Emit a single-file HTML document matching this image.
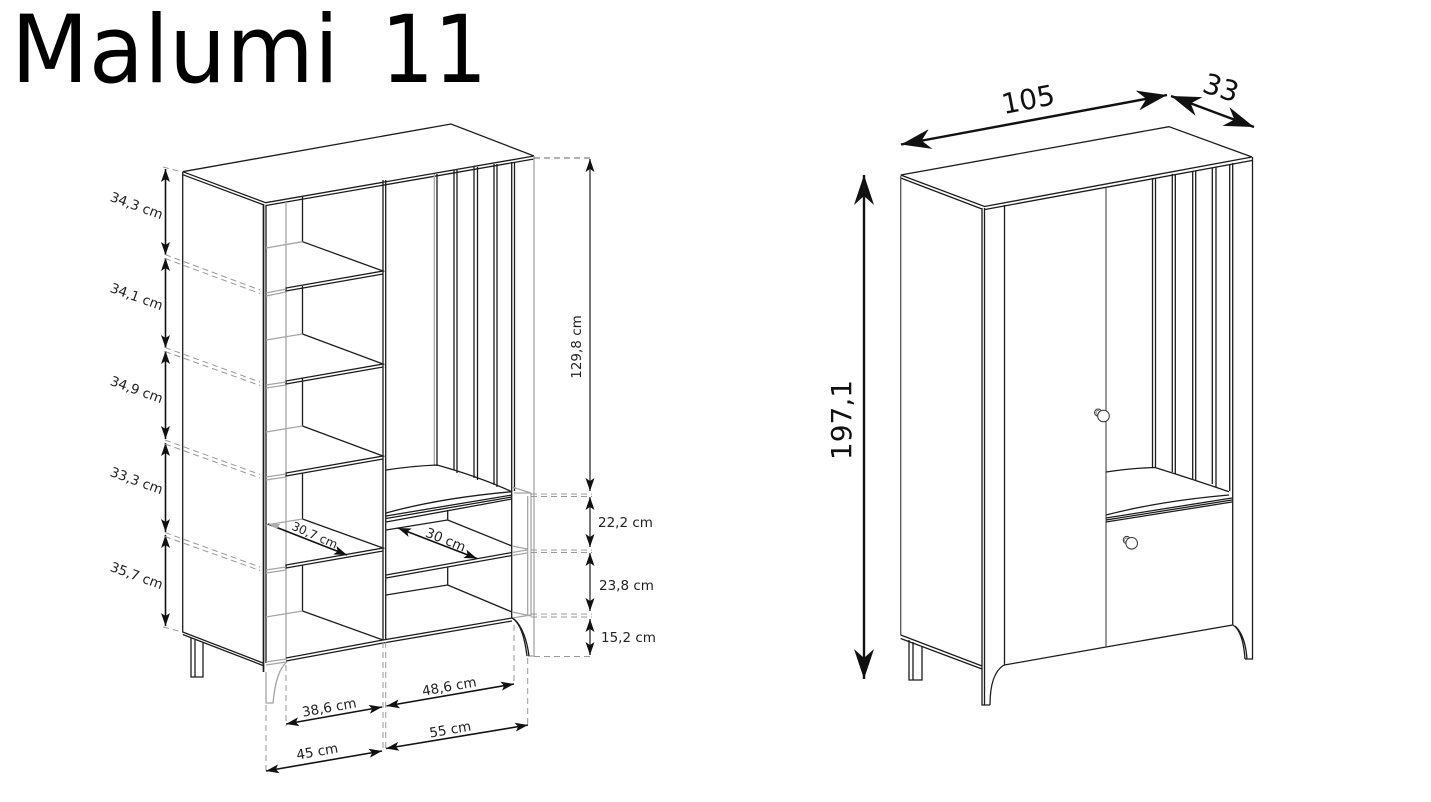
<!DOCTYPE html>
<html>
<head>
<meta charset="utf-8">
<style>
html,body{margin:0;padding:0;background:#fff;width:1431px;height:802px;overflow:hidden}
svg{display:block;filter:blur(.35px)}
text{font-family:"DejaVu Sans",sans-serif;fill:#222}
.k{fill:none;stroke:#1c1c1c;stroke-width:1.3}
.t{fill:none;stroke:#333;stroke-width:1}
.g{fill:none;stroke:#a5a5a5;stroke-width:1.3}
.d{fill:none;stroke:#999;stroke-width:1;stroke-dasharray:6 4}
.a{fill:none;stroke:#111;stroke-width:1.6;marker-start:url(#h);marker-end:url(#h)}
.b{fill:none;stroke:#111;stroke-width:2.4;marker-start:url(#H);marker-end:url(#H)}
.l{font-size:13.5px;text-anchor:middle}
.L{font-size:28px;text-anchor:middle;fill:#111}
</style>
</head>
<body>
<svg width="1431" height="802" viewBox="0 0 1431 802" xmlns="http://www.w3.org/2000/svg">
<defs>
<marker id="h" viewBox="0 0 13 9" refX="13" refY="4.5" markerWidth="13" markerHeight="9" markerUnits="userSpaceOnUse" orient="auto-start-reverse">
<path d="M0 0L13 4.5L0 9L3 4.5Z" fill="#111"/>
</marker>
<marker id="H" viewBox="0 0 30 20" refX="30" refY="10" markerWidth="30" markerHeight="20" markerUnits="userSpaceOnUse" orient="auto-start-reverse">
<path d="M0 0L30 10L0 20L9 10Z" fill="#111"/>
</marker>
</defs>

<text x="11" y="82" font-size="94" style="fill:#000" textLength="328" lengthAdjust="spacingAndGlyphs">Malumi</text>
<text x="381" y="82" font-size="94" style="fill:#000" textLength="106" lengthAdjust="spacingAndGlyphs">11</text>

<!-- LEFT CABINET -->
<g>
<path class="k" d="M182.7 171.7L451 124L534 156M182.7 171.7L265.7 202.7L534 156"/>
<path class="k" d="M182.7 174.7L264 205M266 205.5L534 159"/>
<path class="k" d="M182.7 172V632L263 663M182.7 634.5L263 665.5"/>
<path class="k" style="stroke-width:1.7" d="M263.5 204V672"/>
<path class="k" d="M266 205V663"/>
<path class="g" d="M286 202V660"/>
<path class="g" d="M266 672V703H273C275 682 279 668 287 662"/>
<path class="k" d="M302.5 197V241.7M302.5 286V334M302.5 378V426M302.5 473V519M302.5 565V611"/>
<path class="k" d="M191 638V677H203V643M195 640V677"/>

<!-- shelves -->
<path class="k" d="M302.5 241.7L383 271L286 288L286 291L383 274M302.5 334L383 364L286 381L286 384L383 367M302.5 426L383 456L286 473L286 476L383 459M302.5 519L383 548L286 565L286 568L383 551M302.5 611L383 640"/>
<path class="g" d="M266 248L302.5 241.7M266 293L286 289M266 296L286 292M266 340L302.5 334M266 385L286 382M266 388L286 385M266 432L302.5 426M266 477L286 474M266 480L286 477M266 525L302.5 519M266 570L286 567M266 573L286 570M266 617L302.5 611"/>
<path class="k" d="M286 658L383 640L512 618M286 661L383 643L512 621"/>
<path class="g" d="M266 662L286 659M266 665L286 662"/>

<!-- centre divider -->
<path class="k" d="M383 180V640M385.7 180V640"/>

<!-- slats -->
<path class="g" d="M434.3 174V466"/>
<path class="k" d="M437 174V466M454 170V470M457 170V473M474 167V478M477.5 167V480M494 164V485M497 164V487M511.7 162V618M514.5 162V491"/>
<path class="g" d="M534 156V656H527.5"/>

<!-- seat -->
<path class="k" d="M386 470Q412 466 437 465Q480 477 511.7 491.7M386 513Q440 498 511.7 491.7M386 516L512 495M386 518.5L512 497M386 522L512 499"/>
<path class="k" d="M447.7 510V520L386 530M447.7 520L512 546M386 575L512 552.5M386 578L512 555.5M447.7 567V585L386 595M447.7 585L512 612"/>
<path class="g" d="M512 487L531 493V616M527.7 496V616M514 493L531 493M512 546L527 549M512 552.5L527 550M512 555.5L527 553M512 612L531 616M512 618L531 615"/>
<path class="k" d="M512 618C521 623 525 640 527 656"/>
<path class="k" d="M514 619C522 626 527 640 529 656"/>

<!-- vertical dims -->
<path class="a" d="M165.5 169V255"/>
<path class="a" d="M165.5 258V348"/>
<path class="a" d="M165.5 351V439"/>
<path class="a" d="M165.5 443V532"/>
<path class="a" d="M165.5 535V626"/>
<path class="d" d="M163 167L182 172M163 627L182 632"/>
<path class="d" d="M165 254.5L260 290M165 258.5L260 293.5"/>
<path class="d" d="M165 347.5L260 382M165 351.5L260 385.5"/>
<path class="d" d="M165 440L260 474.5M165 444L260 478"/>
<path class="d" d="M165 532.5L260 567M165 536.5L260 570.5"/>

<path class="a" style="stroke:#555" d="M590 159V491"/>
<path class="a" style="stroke:#555" d="M590 497V547"/>
<path class="a" style="stroke:#555" d="M590 553V611"/>
<path class="a" style="stroke:#555" d="M590 619V655"/>
<path class="d" style="stroke:#666" d="M534 158H592"/>
<path class="d" d="M531 494H592M531 496.5H592M531 550H592M531 552.5H592M531 614H592M531 617H592M534 656.5H592"/>

<!-- horizontal dims -->
<path class="d" d="M266 705V772M286 665V726M383 642V752M385.7 642V752M514 625V685M527.7 658V727"/>
<path class="a" d="M286 724L382 707"/>
<path class="a" d="M386.5 706L514 684"/>
<path class="a" d="M266 771L382 751"/>
<path class="a" d="M386 748.5L528 725"/>
<path class="a" d="M268 524L347 555" style="marker-start:none"/>
<path d="M268 524L280 524L277 529Z" fill="#aaa"/>
<path class="a" d="M398 528L477 558.5"/>

<text class="l" transform="translate(135 210) rotate(20)">34,3 cm</text>
<text class="l" transform="translate(135 301) rotate(20)">34,1 cm</text>
<text class="l" transform="translate(135 394) rotate(20)">34,9 cm</text>
<text class="l" transform="translate(135 485) rotate(20)">33,3 cm</text>
<text class="l" transform="translate(135 580) rotate(20)">35,7 cm</text>
<text class="l" style="font-size:12px" transform="translate(313 539) rotate(24)">30,7 cm</text>
<text class="l" transform="translate(444 544) rotate(22)">30 cm</text>
<text class="l" transform="translate(330 712) rotate(-10)">38,6 cm</text>
<text class="l" transform="translate(318 756) rotate(-10)">45 cm</text>
<text class="l" transform="translate(450 691) rotate(-10)">48,6 cm</text>
<text class="l" transform="translate(451 734) rotate(-10)">55 cm</text>
<text class="l" transform="translate(581 347) rotate(-90)">129,8 cm</text>
<text x="598" y="527" font-size="13.5">22,2 cm</text>
<text x="599" y="590" font-size="13.5">23,8 cm</text>
<text x="601" y="642" font-size="13.5">15,2 cm</text>
</g>

<!-- RIGHT CABINET -->
<g>
<path class="k" d="M900.7 175L1169 126.7L1252 157M900.7 175L984.5 206.5L1252 157"/>
<path class="k" d="M900.7 178L982 209M985 209.5L1252 160.5"/>
<path class="k" style="stroke:#555" d="M900.7 176V635"/>
<path class="k" d="M900.7 635L982 666M900.7 638.5L982 669"/>
<path class="k" d="M982 208V705H990M984.5 208V705M990 705C990 685 994 671 1004 665"/>
<path class="k" d="M1004.5 205V665L1106 647L1232.7 625"/>
<path class="k" d="M909 640V680H922V646M913 642V680"/>
<path class="t" d="M1106 187V647"/>

<path class="k" d="M1152.5 178V467M1155.5 178V467M1172.3 174V472M1175.3 174V474M1192.7 171V479M1195.7 171V481M1212.3 168V484M1216 167V487M1229.7 164V491M1232.7 163V625"/>
<path class="k" d="M1252.5 157V659H1245M1233 625C1241 630 1244 645 1245 659M1235 626C1243 633 1246 646 1247 659"/>
<path class="k" d="M1106 472Q1132 468 1155 467.5Q1195 480 1229 491.7M1106 515Q1160 501 1229 495"/>
<path class="k" d="M1106 518L1232 498M1106 520L1232 500M1106 522L1232 502"/>

<circle cx="1098.2" cy="412.6" r="3.6" fill="#fff" stroke="#333"/>
<circle cx="1098" cy="412.6" r="2" fill="none" stroke="#555" stroke-width=".7"/>
<circle cx="1103.5" cy="416" r="5.8" fill="#fff" stroke="#333"/>
<circle cx="1126.8" cy="540" r="3.6" fill="#fff" stroke="#333"/>
<circle cx="1126.6" cy="540" r="2" fill="none" stroke="#555" stroke-width=".7"/>
<circle cx="1131.7" cy="543.3" r="5.8" fill="#fff" stroke="#333"/>

<path class="b" d="M901 144.5L1167 95"/>
<path class="b" d="M1171 96L1254 127"/>
<path class="b" d="M864 175V679"/>
<text class="L" transform="translate(1030 109) rotate(-11)">105</text>
<text class="L" transform="translate(1218 97) rotate(18)">33</text>
<text class="L" transform="translate(851 420) rotate(-90)">197,1</text>
</g>
</svg>
</body>
</html>
